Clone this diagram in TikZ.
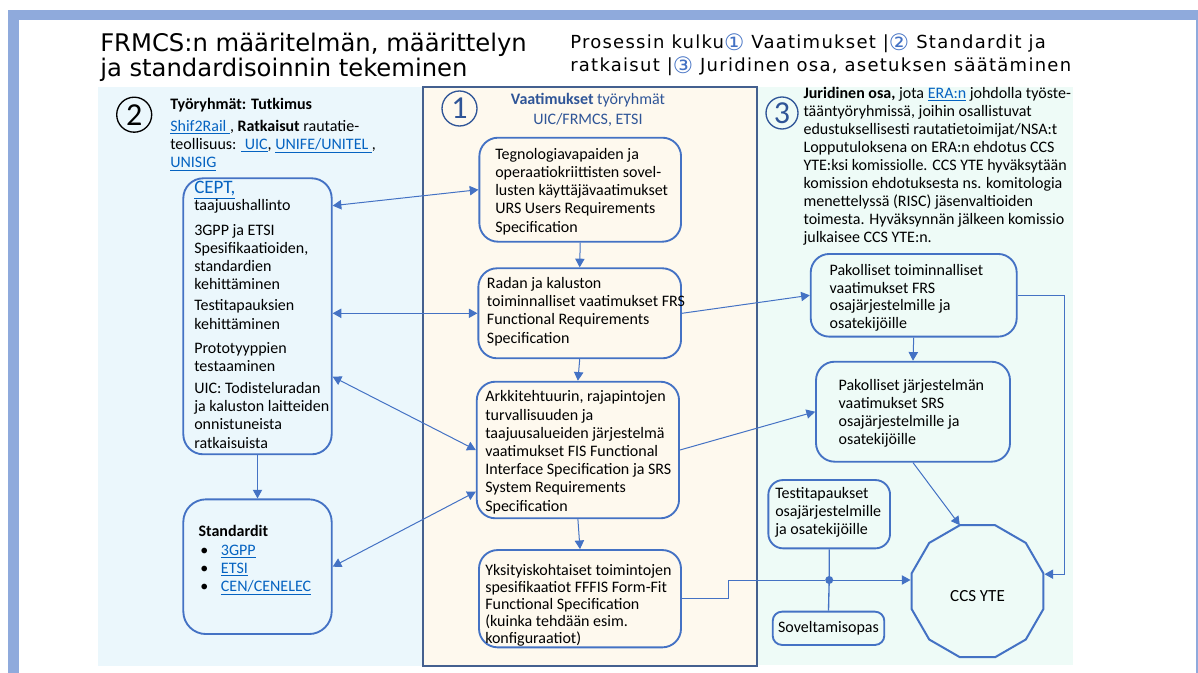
\documentclass[tikz,border=0pt]{standalone}
\usepackage{fontspec}
\setmainfont{Carlito}
\newfontfamily\titlefont{DejaVu Sans}
\newfontfamily\procfont[LetterSpace=7]{DejaVu Sans}
\newfontfamily\numfont{DejaVu Sans}
\usetikzlibrary{arrows.meta,shapes.geometric,calc}
\definecolor{cblue}{HTML}{4472C4}
\definecolor{lnkblue}{HTML}{0563C1}
\definecolor{frameblue}{HTML}{8FAADC}
\definecolor{leftbg}{HTML}{EBF7FC}
\definecolor{rightbg}{HTML}{EEFBF7}
\definecolor{midbg}{HTML}{FEF9EE}
\definecolor{midborder}{HTML}{44608F}
\definecolor{hdrblue}{HTML}{2F5597}
\newdimen\px \px=0.75pt
\newcommand\lnk[1]{\textcolor{lnkblue}{\underline{#1}}}
\newcommand\tp{\rule{0pt}{12pt}}
\newcommand\cnum[1]{\raisebox{-1.5pt}{\numfont\fontsize{17}{17}\selectfont\color{cblue}#1}}
\tikzset{
 box/.style={draw=cblue, line width=1.4pt, rounded corners=14pt, inner sep=0},
 txt/.style={anchor=north west, inner sep=0, align=left, font={\fontsize{12}{13.65}\selectfont}},
 con/.style={draw=cblue, line width=0.75pt},
 arr/.style={con, -{Triangle[length=6.5pt,width=7pt]}},
 dbl/.style={con, {Triangle[length=6.5pt,width=7pt]}-{Triangle[length=6.5pt,width=7pt]}},
 numc/.style={circle, inner sep=0, line width=1pt, minimum size=35\px, font={\fontsize{24}{24}\selectfont}},
}
\begin{document}
\begin{tikzpicture}[x=0.75pt,y=-0.75pt]
\useasboundingbox (0,0) rectangle (1198,673);
\fill[white] (0,0) rectangle (1198,673);
% frame
\fill[frameblue] (8,10) rectangle (1198,20);
\fill[frameblue] (8,10) rectangle (19,673);
\fill[frameblue] (1196,10) rectangle (1198,673);
% regions
\fill[leftbg] (98,87) rectangle (423,666);
\fill[rightbg] (757,87) rectangle (1073,665);
\draw[midborder, fill=midbg, line width=1.6pt] (423,87) rectangle (757,666);

% title and process
\node[anchor=north west, inner sep=0, align=left, font={\titlefont\fontsize{18.2}{17.25}\selectfont}] (title) at (100,30.4)
 {\rule{0pt}{16pt}FRMCS:n määritelmän, määrittelyn\\ja standardisoinnin tekeminen};
\node[anchor=north west, inner sep=0, align=left, font={\procfont\fontsize{13.5}{17.25}\selectfont}] (proc) at (570,32)
 {\tp Prosessin kulku\cnum{①} Vaatimukset |\cnum{②} Standardit ja\\ratkaisut |\cnum{③} Juridinen osa, asetuksen säätäminen};

% circled numbers
\node[numc, draw=black] (c2) at (134.2,114.7) {2};
\node[numc, draw=hdrblue, text=hdrblue] (c1) at (459.5,108.5) {1};
\node[numc, draw=hdrblue, text=hdrblue, minimum size=32\px] (c3) at (782,113) {3};

% left column
\node[txt] (hdr2) at (170,93) {\tp\textbf{Työryhmät: Tutkimus}\\[3pt]\lnk{Shif2Rail\ }, \textbf{Ratkaisut} rautatie-\\teollisuus: \lnk{\ UIC}, \lnk{UNIFE/UNITEL\ }, \\\lnk{UNISIG}};
\node[box, rounded corners=15pt, minimum width=148.4\px, minimum height=276\px] (cept) at (257.5,316.3) {};
\node[txt, font={\fontsize{14.25}{16}\selectfont}] (ceptL) at (194,177.3) {\tp\lnk{CEPT,}};
\node[txt] (ceptT) at (194,194.7) {\tp taajuushallinto\\[4.6pt]3GPP ja ETSI\\Spesifikaatioiden,\\standardien\\kehittäminen\\[2.1pt]Testitapauksien\\kehittäminen\\[4.8pt]Prototyyppien\\testaaminen\\[2.6pt]UIC: Todisteluradan\\ja kaluston laitteiden\\onnistuneista\\ratkaisuista};
\node[box, rounded corners=17pt, minimum width=148.4\px, minimum height=134.7\px] (std) at (257.5,566.7) {};
\node[txt] (stdT) at (198.3,520) {\tp\textbf{Standardit}\\[0.6pt]\hspace*{1.3pt}\makebox[15.5pt][l]{\textbullet}\lnk{3GPP}\\\hspace*{1.3pt}\makebox[15.5pt][l]{\textbullet}\lnk{ETSI}\\\hspace*{1.3pt}\makebox[15.5pt][l]{\textbullet}\lnk{CEN/CENELEC}};

% middle column
\node[anchor=north, inner sep=0, align=center, text=hdrblue, font={\fontsize{12}{15}\selectfont}] (hdr1) at (588,88) {\tp\textbf{Vaatimukset} työryhmät\\UIC/FRMCS, ETSI};
\node[box, minimum width=201.7\px, minimum height=104\px] (urs) at (580.2,189.7) {};
\node[txt] (ursT) at (495,143) {\tp Tegnologiavapaiden ja\\operaatiokriittisten sovel-\\lusten käyttäjävaatimukset\\URS Users Requirements\\Specification};
\node[box, minimum width=202.7\px, minimum height=90\px] (frs) at (579.7,313.3) {};
\node[txt] (frsT) at (486.7,272.3) {\tp Radan ja kaluston\\toiminnalliset vaatimukset FRS\\Functional Requirements\\Specification};
\node[box, minimum width=202.3\px, minimum height=136.6\px] (arch) at (577.9,450) {};
\node[txt] (archT) at (485,385.7) {\tp Arkkitehtuurin, rajapintojen\\turvallisuuden ja\\taajuusalueiden järjestelmä\\vaatimukset FIS Functional\\Interface Specification ja SRS\\System Requirements\\Specification};
\node[box, minimum width=202\px, minimum height=97.3\px] (fffis) at (580,598.7) {};
\node[txt, font={\fontsize{12}{12.85}\selectfont}] (fffisT) at (485,559) {\tp Yksityiskohtaiset toimintojen\\spesifikaatiot FFFIS Form-Fit\\Functional Specification\\(kuinka tehdään esim.\\konfiguraatiot)};

% right column
\node[txt, font={\fontsize{12}{13.5}\selectfont}] (legalT) at (803.3,82.3) {\tp\textbf{Juridinen osa,} jota \lnk{ERA:n} johdolla työste-\\tääntyöryhmissä, joihin osallistuvat\\edustuksellisesti rautatietoimijat/NSA:t\\Lopputuloksena on ERA:n ehdotus CCS\\YTE:ksi komissiolle. CCS YTE hyväksytään\\komission ehdotuksesta ns. komitologia\\menettelyssä (RISC) jäsenvaltioiden\\toimesta. Hyväksynnän jälkeen komissio\\julkaisee CCS YTE:n.};
\node[box, minimum width=206\px, minimum height=82.7\px] (pak1) at (913.7,295.3) {};
\node[txt, font={\fontsize{12}{13.35}\selectfont}] (pak1T) at (829.3,259) {\tp Pakolliset toiminnalliset\\vaatimukset FRS\\osajärjestelmille ja\\osatekijöille};
\node[box, minimum width=194\px, minimum height=100\px] (pak2) at (913,411.7) {};
\node[txt] (pak2T) at (838.3,374) {\tp Pakolliset järjestelmän\\vaatimukset SRS\\osajärjestelmille ja\\osatekijöille};
\node[box, rounded corners=11pt, minimum width=121.7\px, minimum height=68.3\px] (testi) at (829.2,514.2) {};
\node[txt, font={\fontsize{12}{13.35}\selectfont}] (testiT) at (775,482.3) {\tp Testitapaukset\\osajärjestelmille\\ja osatekijöille};
\node[box, rounded corners=7pt, minimum width=111.6\px, minimum height=33.3\px, font={\fontsize{12}{13.65}\selectfont}] (sov) at (828.5,628.3) {Soveltamisopas};
\node[regular polygon, regular polygon sides=12, draw=cblue, line width=1.5pt, minimum size=136.6\px, inner sep=0, font={\fontsize{12.75}{15}\selectfont}] (yte) at (977.5,591.2) {\smash{\raisebox{-7.5pt}{CCS YTE}}};
\node[circle, fill=cblue, minimum size=8\px, inner sep=0] (dot) at (829.2,580) {};

% connectors
\draw[dbl] ($(cept.east)+(0,-110.6)$) -- (urs.west);
\draw[dbl] (frs.west) -- (frs.west -| cept.east);
\draw[dbl] ($(cept.east)+(0,60.4)$) -- (arch.west);
\draw[dbl] (std.east) -- ($(arch.west)+(0,41.7)$);
\draw[arr] (cept.south) -- (std.north);
\draw[arr] (urs.south) -- (frs.north);
\draw[arr] (frs.south) -- (arch.north);
\draw[arr] (arch.south) -- (fffis.north);
\draw[arr] (frs.east) -- (pak1.west);
\draw[arr] (arch.east) -- (pak2.west);
\draw[arr] (pak1.south) -- (pak2.north);
\draw[arr] (pak2.south) -- ($(yte.center)+(-17.7,-66)$);
\draw[arr] (pak1.east) -- ++(47.3,0) |- ($(yte.east)+(0,-17)$);
\draw[con] (fffis.east) -- ++(47,0) |- (dot);
\draw[arr] (dot) -- (dot -| yte.west);
\draw[con, line width=1pt] (testi.south) -- (dot.center) -- (sov.north);
\end{tikzpicture}
\end{document}
